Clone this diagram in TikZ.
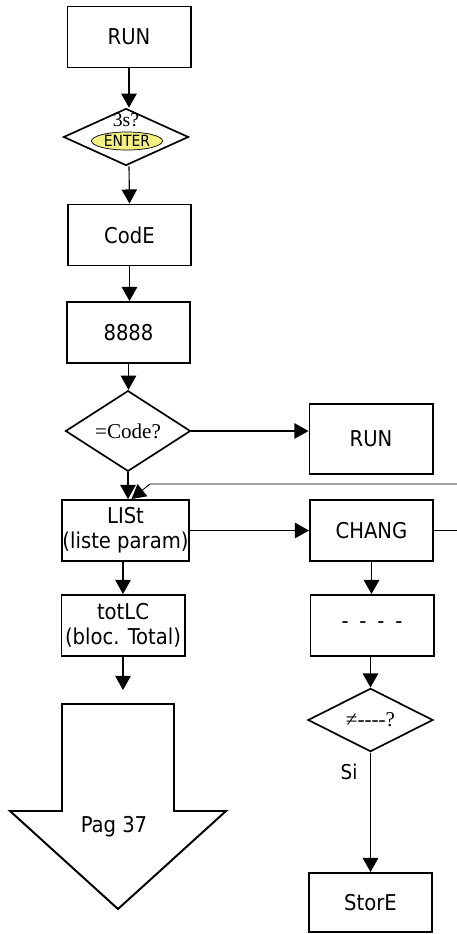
\documentclass[tikz,border=0pt]{standalone}
\usepackage{fontspec}
\setmainfont{DejaVu Sans Condensed}
\newfontfamily\serifface{Liberation Serif}
\usetikzlibrary{shapes}
\usetikzlibrary{arrows.meta}
\definecolor{enteryellow}{RGB}{245,240,130}

\begin{document}
\begin{tikzpicture}[x=0.025cm,y=-0.025cm]
	\tikzstyle{box} = [rectangle, draw=black, line width=1.4pt, minimum width=3.075cm, minimum height=1.525cm, inner sep=0pt, align=center, font=\fontsize{15.5}{18}\selectfont]
	\tikzstyle{decision} = [diamond, draw=black, line width=1.2pt, minimum width=3.125cm, minimum height=1.5cm, inner sep=0pt, font=\serifface\fontsize{15}{17}\selectfont]
	\tikzstyle{flow} = [-{Triangle[length=10pt,width=11pt]}, line width=0.8pt]
	\useasboundingbox (0,0) rectangle (456,934);
	% left column
	\node (run)[box] at (129,37) {RUN};
	\node (enter)[decision, minimum height=1.425cm] at (126,137) {};
	\node (ask)[inner sep=0pt, font=\serifface\fontsize{14}{14}\selectfont] at (126,120) {3s?};
	\node (enterkey)[ellipse, draw=black, line width=0.5pt, fill=enteryellow, minimum width=1.775cm, minimum height=0.45cm, inner sep=0pt, font=\fontsize{11}{11}\selectfont] at (127,141) {ENTER};
	\node (code)[box] at (129.5,235) {CodE};
	\node (eights)[box] at (128.5,332.5) {8888};
	\node (check)[decision, minimum height=1.55cm] at (128,431) {=Code?};
	\node (list)[box] at (125.5,530.5) {LISt\\(liste param)};
	\node (tot)[box] at (123,625.5) {totLC\\(bloc. Total)};
	\draw[line width=1.4pt] (62,704) -- (174,704) -- (174,811) -- (226,811) -- (118,909) -- (10,811) -- (62,811) -- cycle;
	\coordinate (pagtop) at (118,704);
	\node (pag)[inner sep=0pt, font=\fontsize{15.5}{18}\selectfont] at (114,827) {Pag 37};
	% right column
	\node (back)[box, minimum height=1.75cm] at (371,439) {RUN};
	\node (chang)[box] at (371.5,530.5) {CHANG};
	\node (dashes)[box] at (372,625.5) {-\enspace-\enspace-\enspace-};
	\node (differ)[decision] at (370.5,720) {\serifface≠----?};
	\node (si)[inner sep=0pt, font=\fontsize{14.5}{14.5}\selectfont] at (349,772) {Si};
	\node (store)[box, minimum height=1.475cm] at (370.5,902.5) {StorE};
	\coordinate (loop) at (150,484);
	% arrows
	\draw[flow] (run.south) -- (run.south |- enter.north);
	\draw[flow] (enter.south -| run.south) -- (code.north);
	\draw[flow] (code.south) -- (code.south |- eights.north);
	\draw[flow] (eights.south) -- (eights.south |- check.north);
	\draw[flow] (check.east) -- (check.east -| back.west);
	\draw[flow] (check.south) -- (check.south |- list.north);
	\draw[flow] (tot.south |- list.south) -- (tot.north);
	\draw[flow, shorten >=0.35cm] (tot.south) -- (tot.south |- pagtop);
	\draw[flow] (list.east) -- (chang.west);
	\draw[flow] (chang.south) -- (chang.south |- dashes.north);
	\draw[flow] (dashes.south -| differ.north) -- (differ.north);
	\draw[flow] (differ.south) -- (store.north);
	\draw[flow, line width=0.6pt] (chang.east) -- ++(29,0) |- (loop) -- ([xshift=0.15cm]list.north);
\end{tikzpicture}
\end{document}
